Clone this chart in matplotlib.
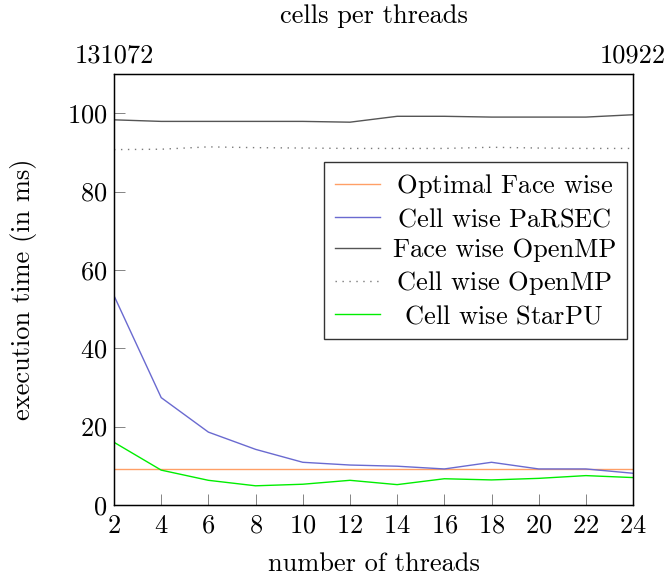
import matplotlib
matplotlib.use("Agg")
import matplotlib.pyplot as plt

plt.rcParams['font.family'] = ['cmr10', 'DejaVu Serif']
plt.rcParams['mathtext.fontset'] = 'cm'
plt.rcParams['axes.formatter.use_mathtext'] = True

threads = [2, 4, 6, 8, 10, 12, 14, 16, 18, 20, 22, 24]
optimal_face = [9.3] * 12
cell_parsec = [53.4, 27.4, 18.6, 14.2, 10.9, 10.2, 9.9, 9.2, 10.9, 9.2, 9.2, 8.1]
face_openmp = [98.3, 97.9, 97.9, 97.9, 97.9, 97.7, 99.2, 99.2, 99.0, 99.0, 99.0, 99.6]
cell_openmp = [90.7, 90.8, 91.4, 91.2, 91.1, 91.0, 91.0, 91.0, 91.3, 91.1, 91.0, 91.0]
cell_starpu = [16.0, 8.9, 6.3, 4.9, 5.3, 6.3, 5.2, 6.7, 6.4, 6.8, 7.5, 7.0]
labels = ["Optimal Face wise", "Cell wise PaRSEC", "Face wise OpenMP",
          "Cell wise OpenMP", "Cell wise StarPU"]
top_ticks = [2, 24]
top_labels = ["131072", "10922"]

FS = 19
fig = plt.figure(figsize=(6.68, 5.78), dpi=100)
ax = fig.add_axes([0.1707, 0.1263, 0.777, 0.7457])

lw = 1.0
ax.plot(threads, optimal_face, color='#FF9F66', lw=lw, label=labels[0])
ax.plot(threads, cell_parsec, color='#6A6AD0', lw=lw, label=labels[1])
ax.plot(threads, face_openmp, color='#555555', lw=lw, label=labels[2])
ax.plot(threads, cell_openmp, color='#7A7A7A', lw=lw, ls=(0, (1, 4)), label=labels[3])
ax.plot(threads, cell_starpu, color='#00EE00', lw=lw, label=labels[4])

ax.set_xlim(2, 24)
ax.set_ylim(0, 110)
ax.set_xticks(threads)
ax.set_yticks([0, 20, 40, 60, 80, 100])
ax.tick_params(direction='in', length=8, width=0.6, color='#707070', labelsize=FS)
ax.tick_params(axis='x', pad=6.6)
ax.tick_params(axis='y', pad=5)
for s in ax.spines.values():
    s.set_linewidth(1.0)

ax.set_xlabel("number of threads", fontsize=FS, labelpad=10)
ax.set_ylabel("execution time (in ms)", fontsize=FS, labelpad=21)

sec = ax.twiny()
sec.set_xlim(ax.get_xlim())
sec.set_xticks(top_ticks)
sec.set_xticklabels(top_labels)
sec.tick_params(length=0, labelsize=FS, pad=4.5)
sec.set_xlabel("cells per threads", fontsize=FS, labelpad=15)

leg = ax.legend(loc='upper right', bbox_to_anchor=(0.988, 0.796), borderaxespad=0,
                fontsize=FS, frameon=True, fancybox=False, edgecolor='black',
                handlelength=1.7, handletextpad=0.5, labelspacing=0.27,
                borderpad=0.4)
leg.get_frame().set_linewidth(1.0)

# center legend texts like pgfplots
fig.canvas.draw()
r = fig.canvas.get_renderer()
texts = leg.get_texts()
widths = [t.get_window_extent(r).width for t in texts]
wmax = max(widths)
em = FS * fig.dpi / 72.0
for t, w, lab in zip(texts, widths, labels):
    pad = (wmax - w) / 2.0 / em
    if pad > 0.01:
        t.set_text(r"$\hspace{%.3f}$" % pad + lab)

fig.savefig("out.png", dpi=100)
